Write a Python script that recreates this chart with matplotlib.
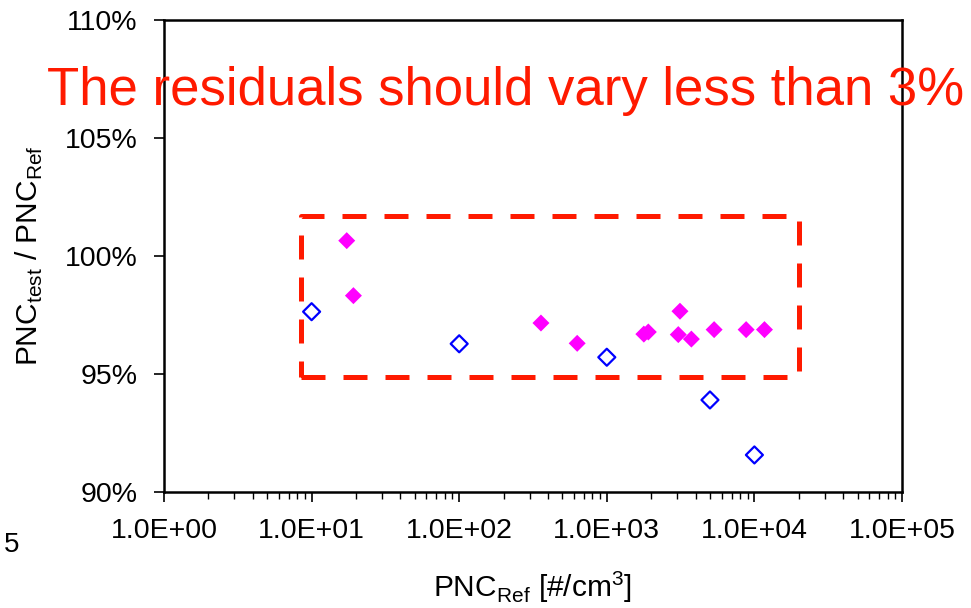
import numpy as np
import matplotlib.pyplot as plt
from matplotlib.ticker import FixedLocator, LogLocator, NullFormatter

plt.rcParams['font.family'] = ['Liberation Sans', 'DejaVu Sans']

# reference instrument points (open blue diamonds)
ref_x = [10, 100, 1000, 5000, 10000]
ref_y = [97.64, 96.28, 95.71, 93.90, 91.57]

# test instrument points (filled magenta diamonds)
test_x = [17.3, 19.2, 358, 630, 1782, 1911, 3131, 3050, 3741, 5335, 8790, 11700]
test_y = [100.65, 98.32, 97.16, 96.30, 96.69, 96.78, 97.66, 96.67, 96.48, 96.88, 96.88, 96.88]

# dashed tolerance box
box_x = [8.5, 2.0e4]
box_y = [94.87, 101.69]

xticks = [1e0, 1e1, 1e2, 1e3, 1e4, 1e5]
xlabels = ['1.0E+00', '1.0E+01', '1.0E+02', '1.0E+03', '1.0E+04', '1.0E+05']
yticks = [90, 95, 100, 105, 110]
ylabels = ['90%', '95%', '100%', '105%', '110%']

fig = plt.figure(figsize=(9.71, 6.08), dpi=100)
ax = fig.add_axes([164 / 971, 116 / 608, 738 / 971, 472 / 608])

ax.set_xscale('log')
ax.set_xlim(1, 1e5)
ax.set_ylim(90, 110)

ax.plot([box_x[0], box_x[1], box_x[1], box_x[0], box_x[0]],
        [box_y[0], box_y[0], box_y[1], box_y[1], box_y[0]],
        color='#ff1a00', lw=3.6, dashes=(4.8, 3.6), zorder=2)

ax.scatter(ref_x, ref_y, marker='D', s=75, facecolors='none', edgecolors='#0000ff', linewidths=1.6, zorder=3)
ax.scatter(test_x, test_y, marker='D', s=75, color='#ff00ff', edgecolors='none', zorder=3)

ax.xaxis.set_major_locator(FixedLocator(xticks))
ax.set_xticklabels(xlabels)
ax.xaxis.set_minor_locator(LogLocator(base=10, subs=np.arange(2, 10)))
ax.xaxis.set_minor_formatter(NullFormatter())
ax.set_yticks(yticks)
ax.set_yticklabels(ylabels)

ax.tick_params(axis='x', which='major', length=7, width=1.2, direction='out', labelsize=20.5, pad=12)
ax.tick_params(axis='x', which='minor', length=5, width=1.0, direction='out')
ax.tick_params(axis='y', which='major', length=7, width=1.2, direction='out', labelsize=20.5, pad=12)
for s in ax.spines.values():
    s.set_linewidth(1.8)

ax.set_xlabel(r'PNC$_{\mathregular{Ref}}$ [#/cm$^{\mathregular{3}}$]', fontsize=21.5, labelpad=18)
ax.set_ylabel(r'PNC$_{\mathregular{test}}$ / PNC$_{\mathregular{Ref}}$', fontsize=21.5, labelpad=14)

fig.text(506 / 971, 1 - 105 / 608, 'The residuals should vary less than 3%', color='#ff1a00',
         fontsize=38, ha='center', va='baseline')
fig.text(12 / 971, 1 - 545 / 608, '5', fontsize=20, ha='center', va='center')

fig.savefig('out.png', dpi=100)
